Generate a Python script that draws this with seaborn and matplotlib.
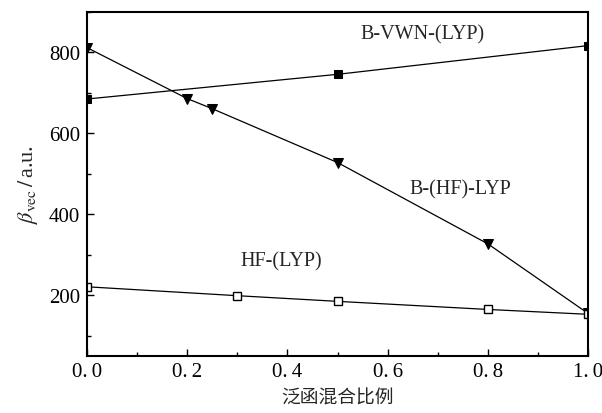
import matplotlib
matplotlib.use("Agg")
import matplotlib.pyplot as plt
import seaborn as sns
import pandas as pd
from matplotlib.ticker import MultipleLocator

sns.set_theme(style="ticks")
plt.rcParams['font.family'] = ['Liberation Serif', 'Noto Sans CJK SC']
plt.rcParams['mathtext.fontset'] = 'stix'

# Data
vwn_x = [0.0, 0.5, 1.0]
vwn_y = [685, 746, 817]
hfb_x = [0.0, 0.2, 0.25, 0.5, 0.8, 1.0]
hfb_y = [812, 686, 661, 528, 327, 155]
hf_x = [0.0, 0.3, 0.5, 0.8, 1.0]
hf_y = [221, 199, 185, 165, 153]
series_names = ["B-VWN-(LYP)", "B-(HF)-LYP", "HF-(LYP)"]
x_ticks = [0.0, 0.2, 0.4, 0.6, 0.8, 1.0]
x_tick_labels = ["0.\u20090", "0.\u20092", "0.\u20094", "0.\u20096", "0.\u20098", "1.\u20090"]
y_ticks = [200, 400, 600, 800]

fig = plt.figure(figsize=(6.02, 4.14), dpi=100)
ax = fig.add_axes([0.1445, 0.1377, 0.977 - 0.1445, 0.9686 - 0.1377])

df1 = pd.DataFrame({"x": vwn_x, "y": vwn_y})
df2 = pd.DataFrame({"x": hfb_x, "y": hfb_y})
df3 = pd.DataFrame({"x": hf_x, "y": hf_y})

sns.lineplot(data=df1, x="x", y="y", ax=ax, color="black", lw=0.9,
             marker="s", markersize=5.5, markerfacecolor="black",
             markeredgecolor="black")
sns.lineplot(data=df2, x="x", y="y", ax=ax, color="black", lw=0.9,
             marker="v", markersize=7, markerfacecolor="black",
             markeredgecolor="black")
sns.lineplot(data=df3, x="x", y="y", ax=ax, color="black", lw=0.9,
             marker="s", markersize=5.5, markerfacecolor="white",
             markeredgecolor="black", markeredgewidth=1.0)

ax.set_xlim(0, 1.0)
ax.set_ylim(50, 900)
ax.set_xticks(x_ticks)
ax.set_xticklabels(x_tick_labels)
ax.set_yticks(y_ticks)
ax.xaxis.set_minor_locator(MultipleLocator(0.1))
ax.yaxis.set_minor_locator(MultipleLocator(100))
ax.tick_params(axis="both", which="both", direction="in", labelsize=15,
               colors="black", top=False, right=False)
ax.tick_params(axis="x", which="major", pad=4)
ax.tick_params(axis="y", which="major", pad=5)
ax.tick_params(which="major", length=5, width=1.0)
ax.tick_params(which="minor", length=3, width=1.0)
for s in ax.spines.values():
    s.set_linewidth(1.5)
    s.set_color("black")

ax.set_xlabel("泛函混合比例", fontsize=13.5, family=['Noto Sans CJK SC'], labelpad=4)
ax.set_ylabel(r"$\beta_{\rm vec}\,/\,$a.u.", fontsize=16, labelpad=6)

ax.text(0.545, 846, series_names[0], fontsize=14.5, va="center", ha="left")
ax.text(0.643, 463, series_names[1], fontsize=14.5, va="center", ha="left")
ax.text(0.307, 285, series_names[2], fontsize=14.5, va="center", ha="left")

fig.savefig("out.png", dpi=100)
